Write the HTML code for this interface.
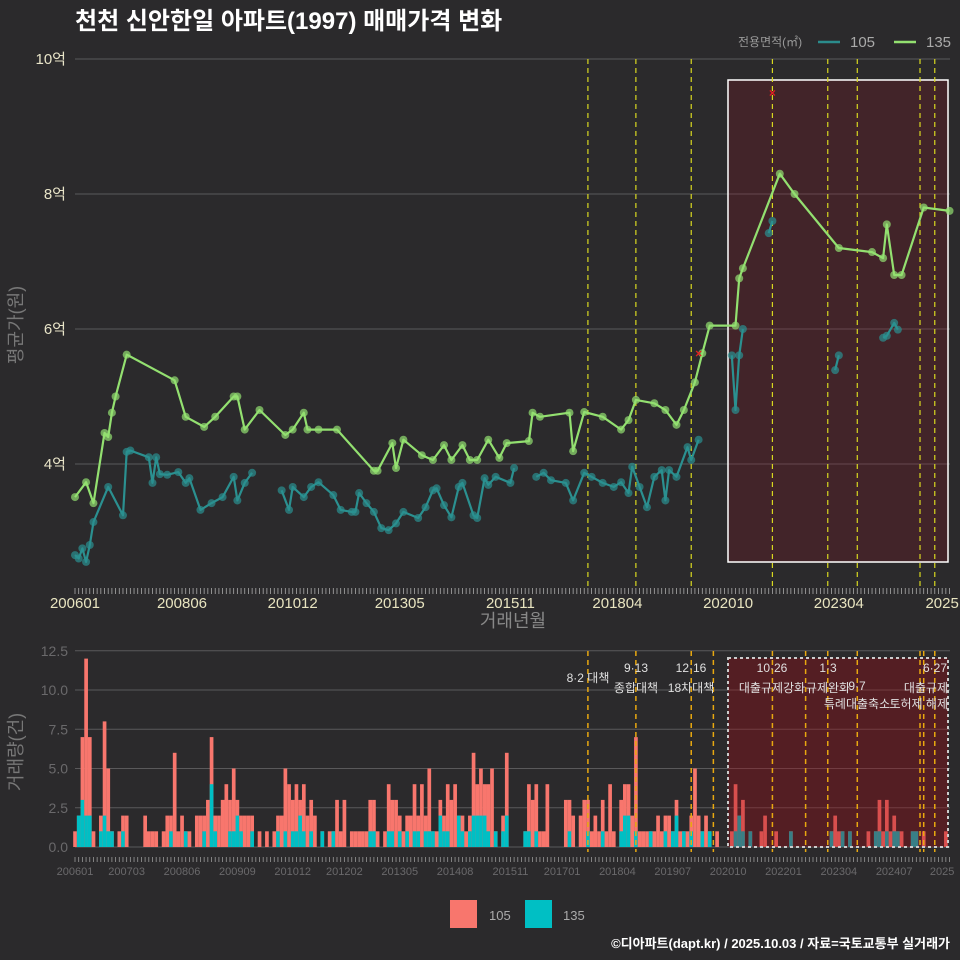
<!DOCTYPE html>
<html><head><meta charset="utf-8">
<style>
html,body{margin:0;padding:0;background:#2b2a2c;}
svg{display:block;font-family:"Liberation Sans","Noto Sans CJK KR",sans-serif;}
</style></head>
<body>
<svg id="chart" width="960" height="960" viewBox="0 0 960 960" xmlns="http://www.w3.org/2000/svg">
<rect width="960" height="960" fill="#2b2a2c"/>
<text x="75" y="29" fill="#ffffff" font-size="24" font-weight="bold">천천 신안한일 아파트(1997) 매매가격 변화</text>
<g>
<text x="738" y="46" fill="#999" font-size="12">전용면적(㎡)</text>
<line x1="818" y1="42" x2="840" y2="42" stroke="#2b8c8c" stroke-width="2.5"/>
<text x="850" y="47" fill="#aaa" font-size="15">105</text>
<line x1="894" y1="42" x2="916" y2="42" stroke="#93e070" stroke-width="2.5"/>
<text x="926" y="47" fill="#aaa" font-size="15">135</text>
</g>
<g id="topPanel"></g>
<g id="botPanel"></g>
<text x="513" y="627" text-anchor="middle" fill="#888" font-size="18">거래년월</text>
<text transform="translate(22,325) rotate(-90)" text-anchor="middle" fill="#777" font-size="18">평균가(원)</text>
<text transform="translate(22,752) rotate(-90)" text-anchor="middle" fill="#777" font-size="18">거래량(건)</text>
<g>
<rect x="450" y="900" width="27" height="28" fill="#f8766d"/>
<text x="489" y="920" fill="#aaa" font-size="13">105</text>
<rect x="525" y="900" width="27" height="28" fill="#00bfc4"/>
<text x="563" y="920" fill="#aaa" font-size="13">135</text>
</g>
<text x="950" y="948" text-anchor="end" fill="#ffffff" font-size="13" font-weight="bold">©디아파트(dapt.kr) / 2025.10.03 / 자료=국토교통부 실거래가</text>
</svg>
<script>
// months since 2006-01 for 135 series
const m135 = [0,3,5,8,9,10,11,14,27,30,35,38,43,44,46,50,57,59,62,63,66,71,81,82,86,87,89,94,97,100,102,105,107,109,112,115,117,123,124,126,134,135,138,143,148,150,152,157,160,163,165,168,170,172,179,180,181,191,195,207,216,219,220,222,224,230,237];
const v135 = [3.51,3.73,3.42,4.46,4.4,4.76,5.0,5.62,5.24,4.7,4.55,4.7,5.0,5.0,4.51,4.8,4.43,4.51,4.76,4.51,4.51,4.51,3.9,3.9,4.31,3.94,4.36,4.13,4.06,4.28,4.06,4.28,4.06,4.06,4.36,4.09,4.31,4.34,4.76,4.7,4.76,4.19,4.77,4.7,4.51,4.65,4.95,4.9,4.8,4.58,4.8,5.21,5.64,6.05,6.05,6.75,6.9,8.3,8.0,7.2,7.14,7.05,7.55,6.8,6.8,7.8,7.75];
const m105 = [0,1,2,3,4,5,9,13,14,15,20,21,22,23,25,28,30,31,34,37,40,43,44,46,48,56,58,59,62,64,66,70,72,75,76,77,79,81,83,85,87,89,93,95,97,98,100,102,104,105,108,109,111,112,114,118,119,125,127,129,133,135,138,140,143,146,148,150,151,153,155,157,159,160,161,163,166,167,169,178,179,180,181,188,189,206,207,219,220,222,223];
const v105 = [2.65,2.6,2.75,2.55,2.8,3.14,3.66,3.24,4.18,4.2,4.1,3.72,4.1,3.85,3.84,3.88,3.72,3.79,3.32,3.42,3.51,3.81,3.46,3.72,3.87,3.61,3.32,3.66,3.51,3.66,3.73,3.54,3.32,3.29,3.29,3.57,3.42,3.29,3.05,3.02,3.12,3.29,3.2,3.36,3.61,3.64,3.39,3.21,3.66,3.72,3.24,3.2,3.79,3.69,3.81,3.72,3.94,3.81,3.87,3.76,3.72,3.46,3.87,3.81,3.72,3.66,3.73,3.57,3.96,3.66,3.36,3.81,3.91,3.46,3.91,3.81,4.25,4.06,4.36,5.61,4.8,5.61,6.0,7.42,7.6,5.39,5.61,5.87,5.9,6.09,5.99];
const markMonths = [169,189];
const markValues = [5.64,9.5];
const yTicksTop = [4,6,8,10];
const yTickLabelsTop = ["4억","6억","8억","10억"];
const xLabelsTop = ["200601","200806","201012","201305","201511","201804","202010","202304","2025"];
const xLabelMonthsTop = [0,29,59,88,118,147,177,207,235];
// volume bars
const barMonths = [0,1,2,3,4,5,7,8,9,10,12,13,14,19,20,21,22,24,25,26,27,28,29,30,31,33,34,35,36,37,38,39,40,41,42,43,44,45,46,47,48,50,52,54,55,56,57,58,59,60,61,62,63,64,65,67,69,70,71,72,73,75,76,77,78,79,80,81,82,84,85,86,87,88,89,90,91,92,93,94,95,96,97,98,99,100,101,102,103,104,105,106,107,108,109,110,111,112,113,114,116,117,122,123,124,125,126,127,128,133,134,135,137,138,139,140,141,142,143,144,145,146,148,149,150,151,152,153,154,155,156,157,158,159,160,161,162,163,164,165,166,167,168,169,170,171,172,174,178,179,180,181,183,186,187,190,194,205,206,207,208,210,215,217,218,219,220,221,222,223,224,227,228,230,236];
const barTotal = [1,2,7,12,7,1,2,8,5,1,1,2,2,2,1,1,1,1,2,2,6,1,2,1,1,2,2,2,3,7,2,2,3,4,3,5,3,2,2,2,2,1,1,1,2,2,5,4,3,4,3,4,2,3,2,1,1,1,3,1,3,1,1,1,1,1,3,3,1,1,4,3,3,2,1,2,2,4,2,4,2,5,1,1,3,2,4,3,4,2,2,1,2,6,4,5,4,4,5,1,2,6,1,4,3,4,1,1,4,3,3,2,2,3,3,1,2,1,3,1,4,1,3,4,4,2,7,1,1,1,1,1,2,1,2,2,1,3,1,1,1,2,5,2,1,2,1,1,1,4,2,3,1,1,2,1,1,1,2,1,1,1,1,1,3,1,3,1,2,1,1,1,1,1,1];
const bar135 = [0,2,3,2,2,0,1,2,1,1,0,1,0,0,0,0,0,0,0,1,0,0,0,1,0,0,0,1,0,4,1,0,0,0,1,1,2,1,0,0,1,0,0,0,1,0,1,0,1,1,2,1,0,1,0,1,0,1,0,0,0,0,0,0,0,0,1,1,0,0,1,1,0,1,0,1,0,1,1,0,1,1,1,0,2,1,1,0,0,2,1,0,1,2,2,2,2,1,0,1,1,2,1,1,0,1,0,0,0,0,1,0,0,0,1,0,0,0,1,0,0,0,1,2,2,0,1,0,0,0,1,0,0,0,1,0,1,2,0,1,0,1,0,0,1,0,1,0,0,1,2,1,1,0,0,0,1,1,0,0,1,1,0,1,1,0,1,0,1,1,0,1,1,0,0,1];
const yTicksBot = [0,2.5,5,7.5,10,12.5];
const yTickLabelsBot = ["0.0","2.5","5.0","7.5","10.0","12.5"];
const xLabelsBot = ["200601","200703","200806","200909","201012","201202","201305","201408","201511","201701","201804","201907","202010","202201","202304","202407","2025"];
const xLabelMonthsBot = [0,14,29,44,59,73,88,103,118,132,147,162,177,192,207,222,235];
const policyMonthsTop = [139,152,167,189,204,212,229,233];
const policyMonthsBot = [139,152,167,173,189,198,204,212,229,230,233];

const NS="http://www.w3.org/2000/svg";
const topG=document.getElementById('topPanel'), botG=document.getElementById('botPanel');
function el(p,tag,attrs){const e=document.createElementNS(NS,tag);for(const k in attrs)e.setAttribute(k,attrs[k]);p.appendChild(e);return e;}
const xS = m => 75 + m*3.69;
const yT = v => 59 + (10 - v)*67.5;
const yB = v => 847 - v*15.7;

yTicksTop.forEach((t,i)=>{
  const g=el(topG,'line',{x1:75,x2:950,y1:yT(t),y2:yT(t),stroke:'#5a595b','stroke-width':1});
  
  
  const tx=el(topG,'text',{x:66,y:yT(t)+5,'text-anchor':'end',fill:'#e8e4c8','font-size':15});
  tx.textContent=yTickLabelsTop[i];
  
  
});
const rz=el(topG,'rect',{x:728,y:80,width:220,height:482,fill:'rgba(150,20,30,0.22)',stroke:'#ffffff','stroke-width':1.5});


policyMonthsTop.forEach(m=>{
  const l=el(topG,'line',{x1:xS(m),x2:xS(m),y1:59,y2:590,stroke:'#d8d820','stroke-width':1.2,'stroke-dasharray':'5 4'});
  
  
});
for(let m=0;m<=237;m++){
  const t=el(topG,'line',{x1:xS(m),x2:xS(m),y1:588,y2:594,stroke:'#aaa','stroke-width':0.8});
  
  
}
xLabelsTop.forEach((s,i)=>{
  const t=el(topG,'text',{x:xS(xLabelMonthsTop[i]),y:608,'text-anchor':'middle',fill:'#e8e4c0','font-size':15});
  t.textContent=s;
  
  
});
function series(ms,vs,color,breakGap,name){
  let d='';
  ms.forEach((m,i)=>{const cmd=(i===0||(breakGap&&m-ms[i-1]>breakGap))?'M':'L';d+=cmd+xS(m).toFixed(1)+','+yT(vs[i]).toFixed(1);});
  const p=el(topG,'path',{d:d,fill:'none',stroke:color,'stroke-width':2.2,'stroke-linejoin':'round'});
  
  
  ms.forEach((m,i)=>{
    const c=el(topG,'circle',{cx:xS(m),cy:yT(vs[i]),r:4,fill:color,'fill-opacity':0.7});
    
    
  });
}
series(m105,v105,'#2b9090',5,'series-105');
series(m135,v135,'#93e070',0,'series-135');
markMonths.forEach((m,i)=>{
  const x=xS(m),y=yT(markValues[i]);
  const t=el(topG,'text',{x:x,y:y+4,'text-anchor':'middle',fill:'#e02020','font-size':12,'font-weight':'bold'});
  t.textContent='×';
  
  
});

yTicksBot.forEach((t,i)=>{
  const g=el(botG,'line',{x1:75,x2:950,y1:yB(t),y2:yB(t),stroke:'#5a595b','stroke-width':1});
  
  
  const tx=el(botG,'text',{x:68,y:yB(t)+5,'text-anchor':'end',fill:'#6a696b','font-size':14});
  tx.textContent=yTickLabelsBot[i];
  
  
});
barMonths.forEach((m,i)=>{
  const x=xS(m)-1.8;
  const b=el(botG,'rect',{x:x,y:yB(barTotal[i]),width:3.69,height:barTotal[i]*15.7,fill:'#f8766d'});
  
  
  if(bar135[i]>0){
    const c=el(botG,'rect',{x:x,y:yB(bar135[i]),width:3.69,height:bar135[i]*15.7,fill:'#00bfc4'});
    
    
  }
});
const bz=el(botG,'rect',{x:728,y:658,width:220,height:189,fill:'rgba(160,10,20,0.35)',stroke:'#cccccc','stroke-width':2,'stroke-dasharray':'3 3'});


policyMonthsBot.forEach(m=>{
  const l=el(botG,'line',{x1:xS(m),x2:xS(m),y1:651,y2:852,stroke:'#e8a810','stroke-width':1.5,'stroke-dasharray':'5 4'});
  
  
});
for(let m=0;m<=237;m++){
  const t=el(botG,'line',{x1:xS(m),x2:xS(m),y1:857,y2:862,stroke:'#999','stroke-width':0.8});
  
  
}
xLabelsBot.forEach((s,i)=>{
  const t=el(botG,'text',{x:xS(xLabelMonthsBot[i]),y:875,'text-anchor':'middle',fill:'#6a696b','font-size':11});
  t.textContent=s;
  
  
});
const notes=[[588,682,'8·2 대책','middle'],[636,672,'9·13','middle'],[636,692,'종합대책','middle'],[691,672,'12·16','middle'],[691,692,'18차대책','middle'],[772,672,'10·26','middle'],[772,692,'대출규제강화','middle'],[828,672,'1·3','middle'],[828,692,'규제완화','middle'],[857,690,'9·7','middle'],[857,708,'특례대출축소','middle'],[935,672,'6·27','middle'],[948,692,'대출규제','end'],[948,708,'토허제 해제','end']];
notes.forEach(n=>{
  const t=el(botG,'text',{x:n[0],y:n[1],'text-anchor':n[3],fill:'#e0e0e0','font-size':12});
  t.textContent=n[2];
  
  
});
</script>
</body></html>
